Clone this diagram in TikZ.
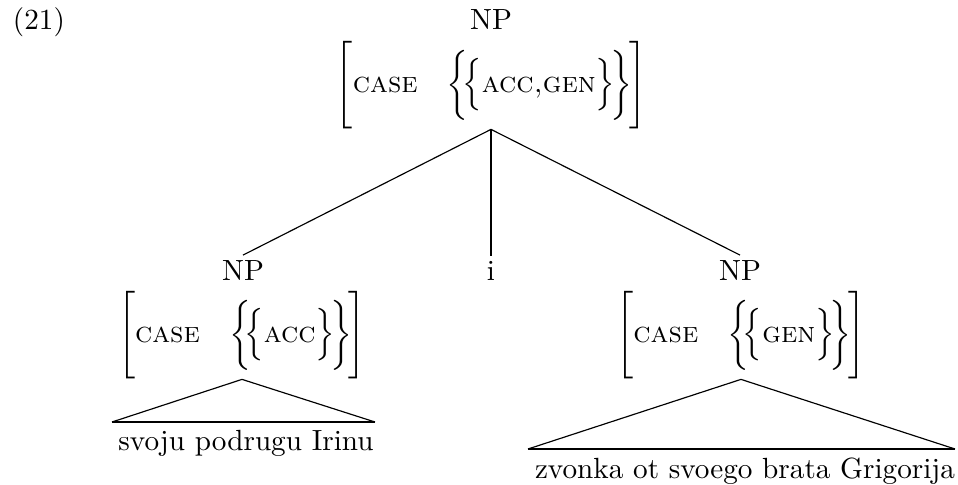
\documentclass[tikz,border=0pt]{standalone}
\usepackage{tikz}
\tikzstyle{cat} = [inner sep=1.5pt, anchor=base]
\tikzstyle{avm} = [inner sep=0pt]
\tikzstyle{roof} = [line width=0.8]
\newcommand{\casefs}[1]{$\Bigg[\textsc{case}\quad\bigg\{\mkern-4mu\Big\{\textsc{#1}\Big\}\mkern-3mu\bigg\}\mkern-2mu\Bigg]$}

\begin{document}
\begin{tikzpicture}[x=0.3425pt, y=-0.3425pt]
  \useasboundingbox (0,0) rectangle (958,485);
  \path (8,30) node[cat, anchor=base west] (exnum) {(21)};

  % mother NP
  \path (491,30) node[cat] (np) {NP};
  \path (491,85) node[avm] (npfs) {\casefs{acc,gen}};

  % first conjunct
  \path (243,280) node[cat] (npa) {NP};
  \path (242,335) node[avm] (npafs) {\casefs{acc}};
  \path (246,450) node[cat] (wa) {svoju podrugu Irinu};
  \coordinate (ral) at (112,422);
  \coordinate (rar) at (375,422);

  % conjunction
  \path (491,280) node[cat] (conj) {i};

  % second conjunct
  \path (740,280) node[cat] (npb) {NP};
  \path (741,335) node[avm] (npbfs) {\casefs{gen}};
  \path (745,478) node[cat] (wb) {zvonka ot svoego brata Grigorija};
  \coordinate (rbl) at (528,449);
  \coordinate (rbr) at (955,449);

  % branches
  \draw (npfs.south) -- (npa.north);
  \draw[line width=0.8] (npfs.south) -- (conj.north);
  \draw (npfs.south) -- (npb.north);

  % roofs
  \draw (npafs.south) -- (ral);
  \draw (npafs.south) -- (rar);
  \draw[roof] (ral) -- (rar);
  \draw (npbfs.south) -- (rbl);
  \draw (npbfs.south) -- (rbr);
  \draw[roof] (rbl) -- (rbr);
\end{tikzpicture}
\end{document}
